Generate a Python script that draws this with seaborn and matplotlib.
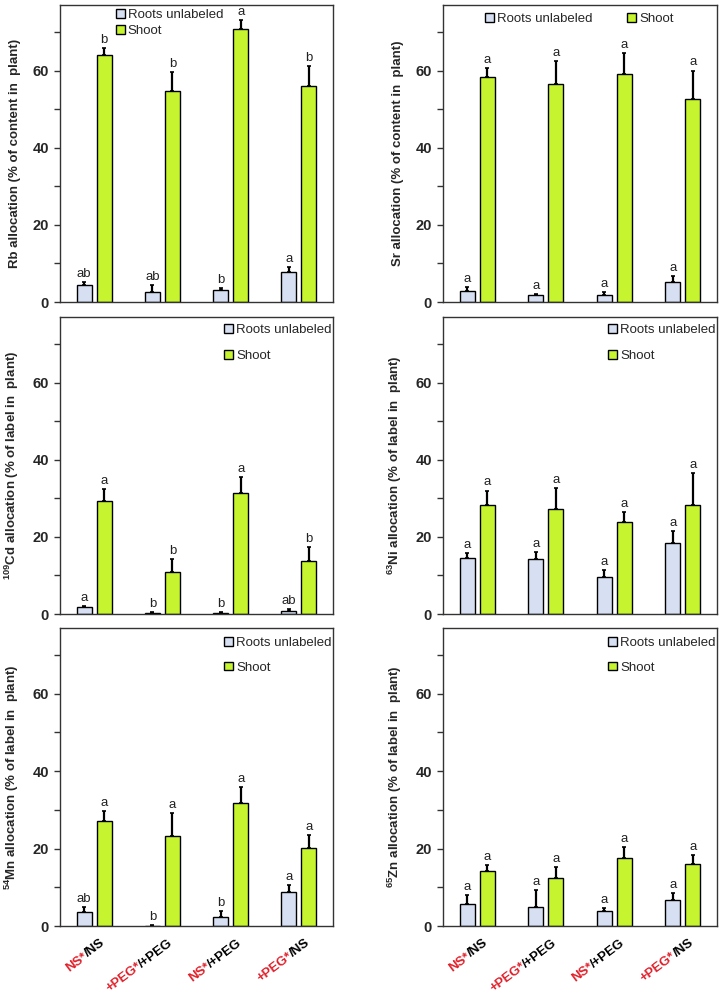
import numpy as np
import pandas as pd
import matplotlib
matplotlib.use("Agg")
import matplotlib.pyplot as plt
from matplotlib import transforms
import seaborn as sns

sns.set_style("ticks")
plt.rcParams["font.family"] = ["Liberation Sans", "DejaVu Sans"]
plt.rcParams["mathtext.fontset"] = "custom"
plt.rcParams["mathtext.rm"] = "Liberation Sans"
plt.rcParams["mathtext.bf"] = "Liberation Sans:bold"

# ---------------- data ----------------
treatments = ["NS*/NS", "+PEG*/+PEG", "NS*/+PEG", "+PEG*/NS"]
label_red = ["NS*", "+PEG*", "NS*", "+PEG*"]
label_black = ["/NS", "/+PEG", "/+PEG", "/NS"]
parts = ["Roots unlabeled", "Shoot"]

rb_roots = [4.5, 2.7, 3.2, 7.8]
rb_roots_err = [0.6, 1.8, 0.4, 1.3]
rb_shoot = [64.1, 54.6, 70.9, 56.0]
rb_shoot_err = [1.7, 5.0, 2.1, 5.1]
rb_roots_let = ["ab", "ab", "b", "a"]
rb_shoot_let = ["b", "b", "a", "b"]

sr_roots = [2.9, 1.7, 1.8, 5.2]
sr_roots_err = [1.0, 0.3, 0.7, 1.6]
sr_shoot = [58.4, 56.5, 59.1, 52.7]
sr_shoot_err = [2.2, 5.9, 5.4, 7.3]
sr_roots_let = ["a", "a", "a", "a"]
sr_shoot_let = ["a", "a", "a", "a"]

cd_roots = [1.7, 0.35, 0.35, 0.9]
cd_roots_err = [0.4, 0.1, 0.1, 0.3]
cd_shoot = [29.4, 11.0, 31.5, 13.7]
cd_shoot_err = [3.0, 3.3, 4.1, 3.7]
cd_roots_let = ["a", "b", "b", "ab"]
cd_shoot_let = ["a", "b", "a", "b"]

ni_roots = [14.4, 14.3, 9.5, 18.4]
ni_roots_err = [1.5, 1.7, 2.0, 3.1]
ni_shoot = [28.3, 27.1, 23.8, 28.3]
ni_shoot_err = [3.7, 5.5, 2.6, 8.2]
ni_roots_let = ["a", "a", "a", "a"]
ni_shoot_let = ["a", "a", "a", "a"]

mn_roots = [3.5, 0.05, 2.4, 8.7]
mn_roots_err = [1.4, 0.25, 1.5, 1.8]
mn_shoot = [27.1, 23.3, 31.8, 20.1]
mn_shoot_err = [2.7, 6.0, 4.1, 3.5]
mn_roots_let = ["ab", "b", "b", "a"]
mn_shoot_let = ["a", "a", "a", "a"]

zn_roots = [5.8, 4.8, 3.8, 6.7]
zn_roots_err = [2.1, 4.6, 0.8, 1.9]
zn_shoot = [14.1, 12.4, 17.6, 16.0]
zn_shoot_err = [1.6, 2.8, 2.7, 2.4]
zn_roots_let = ["a", "a", "a", "a"]
zn_shoot_let = ["a", "a", "a", "a"]

ylabels = [
    "Rb allocation (% of content in  plant)",
    "Sr allocation (% of content in  plant)",
    r"$^{\mathbf{109}}$Cd allocation (% of label in  plant)",
    r"$^{\mathbf{63}}$Ni allocation (% of label in  plant)",
    r"$^{\mathbf{54}}$Mn allocation (% of label in  plant)",
    r"$^{\mathbf{65}}$Zn allocation (% of label in  plant)",
]

panels = [
    (rb_roots, rb_roots_err, rb_shoot, rb_shoot_err, rb_roots_let, rb_shoot_let),
    (sr_roots, sr_roots_err, sr_shoot, sr_shoot_err, sr_roots_let, sr_shoot_let),
    (cd_roots, cd_roots_err, cd_shoot, cd_shoot_err, cd_roots_let, cd_shoot_let),
    (ni_roots, ni_roots_err, ni_shoot, ni_shoot_err, ni_roots_let, ni_shoot_let),
    (mn_roots, mn_roots_err, mn_shoot, mn_shoot_err, mn_roots_let, mn_shoot_let),
    (zn_roots, zn_roots_err, zn_shoot, zn_shoot_err, zn_roots_let, zn_shoot_let),
]

# ---------------- style ----------------
COL_ROOT = "#D6E0F2"
COL_SHOOT = "#C6F530"
COL_RED = "#E0202A"
SPINE = "#333333"
W, H = 722, 993

fig = plt.figure(figsize=(W / 100, H / 100), dpi=100)

# axes boxes in pixels: (left, top, right, bottom)
boxes = [
    (60, 5, 333, 302), (443, 5, 717, 302),
    (60, 317, 333, 614), (443, 317, 717, 614),
    (60, 628, 333, 926), (443, 628, 717, 926),
]

legend_cfg = [
    dict(loc="upper left", bbox_to_anchor=(0.205, 0.985), ncol=1, labelspacing=0.3),
    dict(loc="upper left", bbox_to_anchor=(0.155, 0.972), ncol=2, columnspacing=2.6),
    dict(loc="upper right", bbox_to_anchor=(0.995, 0.975), ncol=1, labelspacing=1.05),
    dict(loc="upper right", bbox_to_anchor=(0.995, 0.975), ncol=1, labelspacing=1.05),
    dict(loc="upper right", bbox_to_anchor=(0.995, 0.97), ncol=1, labelspacing=0.95),
    dict(loc="upper right", bbox_to_anchor=(0.995, 0.97), ncol=1, labelspacing=0.95),
]

axes = []
for k, (box, pdata, ylab) in enumerate(zip(boxes, panels, ylabels)):
    l, t, r, b = box
    ax = fig.add_axes([l / W, 1 - b / H, (r - l) / W, (b - t) / H])
    axes.append(ax)
    roots, roots_err, shoot, shoot_err, rlet, slet = pdata
    df = pd.DataFrame({
        "treatment": treatments * 2,
        "part": [parts[0]] * 4 + [parts[1]] * 4,
        "value": list(roots) + list(shoot),
    })
    sns.barplot(data=df, x="treatment", y="value", hue="part", order=treatments,
                hue_order=parts, palette=[COL_ROOT, COL_SHOOT], saturation=1,
                errorbar=None, width=0.59, gap=0.25, edgecolor="black",
                linewidth=1.0, ax=ax, legend=True, zorder=2)
    for cont, errs, lets in zip(ax.containers, [roots_err, shoot_err], [rlet, slet]):
        xs = [p.get_x() + p.get_width() / 2 for p in cont.patches]
        ys = [p.get_height() for p in cont.patches]
        ax.errorbar(xs, ys, yerr=[np.zeros(len(errs)), errs], fmt="none",
                    ecolor="black", elinewidth=1.6, capsize=1.5, capthick=1.2, zorder=1)
        for x, y, e, s in zip(xs, ys, errs, lets):
            ax.annotate(s, (x, y + e), xytext=(0, 1.5), textcoords="offset points",
                        ha="center", va="bottom", fontsize=9.5, color="#222222")
    ax.set_ylim(0, 77)
    ax.set_xlim(-0.5, 3.5)
    ax.set_yticks([0, 20, 40, 60])
    ax.set_yticks([10, 30, 50, 70], minor=True)
    ax.tick_params(axis="y", which="both", direction="out", length=4, width=1,
                   color=SPINE, labelsize=10.5, pad=4)
    for lab in ax.get_yticklabels():
        lab.set_fontweight("bold")
    ax.tick_params(axis="x", length=0, labelbottom=False)
    ax.set_xlabel("")
    ax.set_ylabel(ylab, fontsize=9.5, fontweight="bold", labelpad=8)
    for sp in ax.spines.values():
        sp.set_visible(True)
        sp.set_color(SPINE)
        sp.set_linewidth(1.0)
    handles, labels = ax.get_legend_handles_labels()
    ax.legend(handles, labels, frameon=False, fontsize=9.5, handlelength=0.65,
              handleheight=0.65, handletextpad=0.25, borderpad=0, borderaxespad=0,
              **legend_cfg[k])

# two-coloured rotated x labels on bottom row
fig.canvas.draw()
renderer = fig.canvas.get_renderer()
ang = 37
th = np.deg2rad(ang)
for ax in axes[4:]:
    for i, (rt, bt) in enumerate(zip(label_red, label_black)):
        kw = dict(fontsize=9.5, fontweight="bold", rotation=ang,
                  rotation_mode="anchor", ha="right", va="top")
        tmp = ax.text(0, 0, bt, fontsize=9.5, fontweight="bold")
        w = tmp.get_window_extent(renderer).width
        tmp.remove()
        dx0, dy0 = 6, -11
        tb = transforms.offset_copy(ax.get_xaxis_transform(), x=dx0, y=dy0, units="dots")
        ax.text(i, 0, bt, transform=tb, color="black", **kw)
        tr = transforms.offset_copy(ax.get_xaxis_transform(), x=dx0 - w * np.cos(th),
                                    y=dy0 - w * np.sin(th), units="dots")
        ax.text(i, 0, rt, transform=tr, color=COL_RED, **kw)

fig.savefig("out.png", dpi=100)
